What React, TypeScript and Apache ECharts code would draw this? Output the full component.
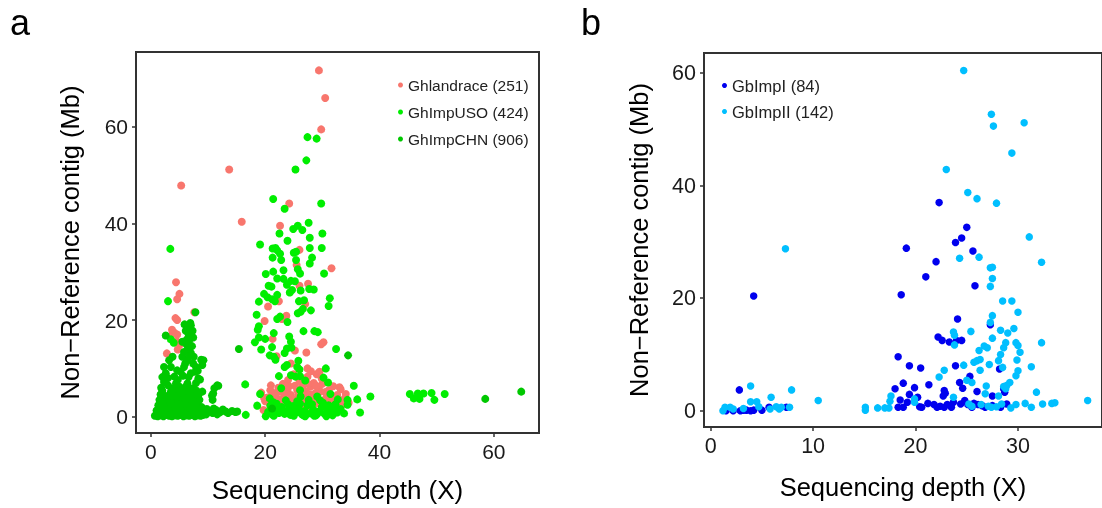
import React, { useEffect, useRef } from "react";
import * as echarts from "echarts";

const FONT = "'Liberation Sans', Arial, Helvetica, sans-serif";

// Panel a
const seriesNamesA = ["Ghlandrace (251)", "GhImpUSO (424)", "GhImpCHN (906)"];
const colorsA = ["#F8766D", "#00EE00", "#00C800"];
const xTicksA = [0, 20, 40, 60];
const yTicksA = [0, 20, 40, 60];

const ghLandrace: number[][] = [
  [29.4,71.6],[30.5,65.9],[29.8,59.4],[13.7,51.1],[5.3,47.8],[15.9,40.3],[24.2,44.1],[22.6,39.5],[26.0,34.5],[25.5,31.4],
  [31.6,30.7],[27.5,27.5],[26.0,27.1],[22.4,23.9],[20.5,22.8],[27.0,23.3],[23.7,20.9],[22.9,20.2],[19.9,19.8],[21.3,16.1],
  [30.2,15.4],[29.8,15.0],[25.2,13.7],[27.2,13.3],[22.0,12.5],[24.5,11.0],[27.4,10.0],[29.3,9.0],[29.0,8.8],
  [4.4,27.8],[5.0,25.4],[4.6,24.3],[7.6,21.6],[4.3,20.4],[4.6,20.0],[4.1,17.4],[3.8,17.2],[4.6,17.0],[4.5,15.6],
  [5.0,14.8],[4.7,13.9],[2.8,13.1],[3.7,18.0],
  [29.5,9.3],[30.3,7.3],[27.4,8.3],[25.2,6.4],[23.1,6.8],[23.9,5.5],[26.5,6.2],[27.9,6.2],[28.8,4.9],[30.0,6.8],
  [29.7,5.2],[31.1,5.5],[33.2,5.7],[34.1,4.7],[34.6,2.9],[33.5,2.5],[21.5,4.9],[20.7,2.8],[19.7,1.4],[19.3,5.0],
  [24.5,4.5],[26.2,3.8],[27.4,4.2],[28.2,3.5],[22.7,3.5],[23.9,2.8],[30.6,3.8],[31.7,3.5],[32.6,2.8],[22.1,1.4],
  [25.0,2.8],[29.1,2.8],[30.3,2.3],[27.1,5.2],[25.6,5.5],[23.3,4.5],[28.5,7.0],[26.0,7.4],[24.0,7.6],[22.3,6.0],
  [20.4,4.0],[21.0,6.5],[31.9,6.3],[32.6,4.5],[33.9,3.8],[20.0,3.2],[21.8,2.4],[26.8,2.4],[28.0,2.0],[31.2,1.9],
  [32.2,1.5],[24.7,1.8],[27.5,6.8],[29.3,5.9],[30.8,4.6],[25.0,8.8],[28.0,9.4],[26.7,4.7],[24.2,6.3],[22.5,5.3],[29.8,3.3],
  [21.9,4.2],[23.0,3.0],[24.9,3.6],[26.4,5.8],[27.8,4.6],[28.9,6.4],[30.5,5.1],[31.6,4.2],[32.9,3.2],[33.0,6.1],
  [20.9,5.5],[23.6,6.2],[25.8,4.6],[29.9,7.9],[31.4,2.9],[19.8,3.9],[27.0,3.1],[24.3,3.4],[21.2,3.6]
];

const ghImpUSO: number[][] = [
  [27.4,57.8],[29.0,57.5],[27.2,53.0],[25.3,51.1],[21.4,45.0],[29.8,44.1],[23.4,43.0],[22.5,37.9],[24.9,38.8],[25.7,39.5],
  [26.5,38.6],[27.6,40.1],[30.0,37.9],[23.9,36.4],[27.8,37.0],
  [19.1,35.6],[21.3,34.8],[21.8,34.9],[22.1,34.4],[29.9,34.9],[27.8,34.9],[25.0,33.9],[25.4,34.1],[22.6,33.7],[21.3,32.9],
  [28.2,32.9],[25.4,32.4],[22.8,32.4],[27.8,31.7],[25.7,30.5],[26.1,29.6],[20.1,29.5],[21.4,30.0],[23.2,30.3],[30.3,29.6],
  [22.1,28.6],[23.2,28.5],[24.5,28.1],[25.2,28.0],[23.8,27.3],[20.6,27.1],[21.1,26.9],[26.2,26.1],[24.3,25.7],[24.7,26.2],
  [27.7,26.4],[28.5,26.3],[19.8,25.4],[20.4,24.7],[21.2,24.3],[21.7,23.9],[22.1,25.2],[31.3,24.5],[18.9,23.8],[25.9,23.9],
  [26.8,24.1],[26.6,22.3],[26.2,21.7],[25.7,21.4],[31.1,22.9],[28.0,22.0],[18.5,21.1],[22.1,20.2],[22.6,20.7],[23.9,19.6],
  [18.9,18.7],[18.7,18.0],[26.7,17.7],[28.6,17.7],[29.2,17.5],[21.5,17.3],[18.9,16.4],[18.2,15.4],[20.0,16.1],[24.2,16.6],
  [24.5,15.5],[24.6,14.3],[21.2,14.4],[19.3,13.9],[23.8,14.1],[23.4,13.2],[32.4,14.0],[20.8,12.7],[21.5,12.4],[21.8,11.8],
  [25.8,11.6],[23.8,10.7],[23.4,10.3],[25.6,10.3],[26.0,9.8],[30.6,10.0],[24.5,8.6],[25.3,8.3],[26.1,8.4],[27.0,7.5],
  [22.4,8.4],[30.2,8.1],[16.5,6.7],[31.0,7.1],[22.8,5.9],[26.1,5.5],[35.5,6.4],[19.1,4.7],[31.4,4.7],[32.7,3.6],
  [34.4,3.5],[36.1,3.6],[38.4,4.2],[20.8,3.8],[21.4,3.0],[26.2,4.2],[29.1,4.2],[34.4,2.5],[18.6,2.3],[36.6,0.9],
  [16.6,0.4],[20.1,0.1],
  [20.5,1.0],[21.2,0.5],[21.8,1.6],[22.4,0.8],[22.9,2.0],[23.4,0.6],[23.9,1.3],[24.4,0.4],[24.9,2.2],[25.4,0.9],
  [25.9,1.6],[26.4,0.5],[26.9,1.2],[27.4,2.4],[27.9,0.7],[28.4,1.5],[28.9,0.3],[29.4,1.1],[29.9,2.0],[30.4,0.6],
  [30.9,1.4],[31.4,0.8],[32.0,1.9],[32.6,0.9],[33.2,1.6],[33.8,0.7],[20.9,2.3],[22.0,2.7],[23.1,1.0],[24.0,2.6],
  [25.0,0.2],[26.1,2.7],[27.0,0.1],[28.2,2.6],[29.1,0.6],[30.1,2.9],[31.1,2.4],[32.3,2.6],[23.6,3.4],[25.6,3.2],
  [27.6,3.5],[29.6,3.4],[21.5,0.2],[24.6,1.0],[28.6,0.2],[30.7,0.1],[26.7,0.3],[22.7,1.5],[31.8,0.3],
  [3.4,34.7],[3.0,23.9],[4.0,15.3],[3.5,16.0],
  [45.3,4.7],[46.0,3.8],[46.7,4.8],[47.0,3.7],[47.7,4.8],[49.1,4.9],[49.6,3.5],[51.4,4.7]
];

const ghImpCHN: number[][] = [
  [15.4,14.0],[34.5,12.7],[21.2,1.7],[58.5,3.7],[64.8,5.2],[7.8,21.6],[2.6,16.8],
  [7.0,18.9],[6.4,18.4],[7.3,17.8],[6.1,17.8],[6.9,16.8],[6.7,15.8],[6.3,16.0],[6.5,14.1],[5.8,13.4],[7.0,13.2],
  [7.5,12.4],[5.5,12.4],[9.2,11.7],[9.0,10.7],[6.4,11.7],[5.8,10.3],[7.9,10.3],[5.2,9.3],[7.0,9.0],[8.6,7.7],
  [7.9,7.0],[6.4,6.9],[4.7,7.6],[5.0,6.2],[6.9,19.4],[5.9,19.1],[8.8,11.8],[8.3,7.9],[6.2,15.0],[7.2,14.6],
  [6.0,11.0],[6.6,8.2],[5.6,8.5],[7.4,11.0],
  [3.8,12.4],[3.2,11.7],[2.3,10.3],[2.6,9.0],[3.5,10.3],[4.1,8.3],[4.4,6.9],[3.8,5.9],[2.3,7.2],[3.0,6.5],[1.8,6.0],[2.0,8.2],
  [0.7,0.2],[1.2,0.1],[1.7,0.3],[2.2,0.1],[2.7,0.4],[3.2,0.2],[3.7,0.1],[4.2,0.3],[4.7,0.2],[5.2,0.4],
  [5.7,0.1],[6.2,0.3],[6.7,0.2],[7.2,0.4],[7.7,0.1],[8.2,0.3],[8.7,0.2],[9.2,0.4],[9.7,0.5],
  [1.0,1.3],[1.8,1.1],[2.5,1.4],[3.3,1.0],[4.0,1.2],[4.8,1.5],[5.5,1.1],[6.3,1.3],[7.0,1.0],[7.8,1.4],[8.5,1.2],[9.3,1.1],
  [1.3,2.4],[2.0,2.1],[2.8,2.5],[3.6,2.2],[4.4,2.6],[5.1,2.3],[5.9,2.0],[6.6,2.5],[7.4,2.2],[8.2,2.4],[8.9,2.0],
  [1.5,3.5],[2.3,3.2],[3.1,3.6],[3.9,3.3],[4.6,3.7],[5.4,3.4],[6.2,3.1],[6.9,3.6],[7.7,3.3],[8.5,3.5],
  [1.7,4.6],[2.6,4.3],[3.4,4.7],[4.3,4.4],[5.1,4.8],[5.8,4.5],[6.6,4.2],[7.4,4.7],[8.3,4.4],
  [2.0,5.4],[4.0,5.7],[4.9,5.5],[5.7,5.8],[6.5,5.6],[7.3,5.9],[8.0,5.4],[9.0,5.2],[9.8,1.6],
  [1.4,0.7],[2.4,0.8],[3.5,0.6],[4.5,0.8],[5.4,0.7],[6.5,0.8],[7.5,0.7],[8.4,0.8],[9.0,0.9],
  [1.6,1.8],[3.0,1.9],[4.2,1.8],[5.3,1.7],[6.9,1.8],[8.0,1.9],[2.0,2.9],[3.4,2.8],[4.9,2.9],[6.0,2.7],
  [7.2,2.9],[8.1,3.0],[2.9,4.0],[4.6,4.1],[5.9,3.9],[7.0,4.0],[3.5,5.2],[5.3,5.2],[6.2,6.3],[4.6,9.6],
  [7.8,9.3],[5.5,15.5],[7.4,16.4],[6.6,17.1],[6.8,12.6],[8.2,9.5],[3.0,8.0],
  [11.8,6.4],[11.1,5.9],[10.9,4.8],[10.8,3.5],[11.4,1.4],[12.2,1.1],[13.1,1.1],[13.5,0.8],[14.8,1.0],[15.1,1.1],
  [10.8,0.8],[11.6,0.5],[11.0,1.7],[12.6,1.5],[10.7,4.4],[11.6,6.5],[12.0,0.9],[14.2,1.2]
];

// Panel b
const seriesNamesB = ["GbImpI (84)", "GbImpII (142)"];
const colorsB = ["#0000EE", "#00BFFF"];
const xTicksB = [0, 10, 20, 30];
const yTicksB = [0, 20, 40, 60];

const gbImpI: number[][] = [
  [4.2,20.4],[2.8,3.7],[19.1,28.9],[18.6,20.6],[18.3,9.6],[22.3,37.0],[22.0,26.5],[21.0,23.8],[25.0,32.6],[24.5,30.7],
  [23.9,29.9],[25.6,28.4],[25.8,22.2],[24.1,16.3],[27.3,15.3],[22.2,13.1],[22.6,12.5],[23.3,12.2],[24.0,12.5],[24.5,12.5],
  [19.4,8.0],[20.5,7.6],[23.9,8.0],[28.2,7.4],[25.3,6.1],[18.8,4.9],[19.9,4.1],[21.3,4.6],[18.0,3.9],[24.3,5.0],
  [24.6,4.0],[26.0,3.4],[22.8,3.6],[22.9,3.1],[22.7,2.6],[19.4,2.9],[20.2,2.4],[18.5,1.9],[19.2,1.5],[18.8,0.6],
  [18.3,0.6],[20.4,0.7],[20.6,0.6],[21.2,1.3],[21.8,1.1],[22.1,0.6],[22.4,0.8],[22.8,0.6],[23.1,1.1],[23.5,0.6],
  [23.7,1.5],[24.4,1.2],[24.8,1.8],[25.1,1.1],[25.5,0.6],[25.7,1.3],[26.1,1.1],[26.5,0.9],[26.8,0.6],[27.5,2.6],
  [27.5,0.9],[28.3,0.6],[28.7,3.3],[28.9,1.2],[28.6,3.9],
  [1.5,0.0],[2.2,0.0],[2.9,0.0],[3.2,0.1],[3.5,0.1],[3.9,0.0],[4.2,0.1],[5.0,0.1],[5.7,0.6],[7.4,0.6]
];

const gbImpII: number[][] = [
  [24.7,60.5],[27.4,52.7],[27.6,50.6],[30.6,51.2],[29.4,45.8],[23.0,42.9],[25.1,38.8],[26.0,37.7],[27.9,36.9],[31.1,30.9],
  [7.3,28.8],[24.3,27.1],[26.2,27.3],[32.3,26.4],[27.3,25.4],[27.5,25.5],[27.5,23.5],[27.3,22.1],[28.5,19.5],[29.4,19.5],
  [30.0,17.5],[27.5,16.9],[27.3,15.7],[23.7,14.0],[23.8,13.4],[23.8,11.7],[25.4,14.1],[28.3,14.3],[29.0,13.8],[29.6,14.6],
  [27.5,12.9],[28.8,12.1],[28.6,11.2],[28.3,10.0],[28.1,8.9],[28.5,7.7],[29.8,12.1],[30.0,11.6],[30.2,10.4],[29.9,9.0],
  [30.0,7.1],[29.8,6.2],[32.3,12.1],[26.7,11.5],[27.0,11.2],[26.2,10.7],[25.7,8.6],[26.0,8.9],[26.3,9.1],[26.3,7.2],
  [27.2,8.2],[24.7,8.1],[31.3,7.8],[22.8,7.2],[22.3,6.0],[25.0,5.4],[25.5,5.0],[26.9,4.4],[28.6,4.3],[28.8,3.9],
  [28.9,4.5],[29.2,5.0],[26.8,3.0],[28.1,2.6],[31.8,3.3],[23.7,2.4],[19.9,2.1],[17.6,2.6],[17.5,1.7],[15.1,0.6],
  [15.1,0.1],[16.3,0.5],[17.0,0.5],[17.4,0.5],[19.9,1.5],[25.2,1.2],[25.5,0.8],[26.4,1.1],[27.1,0.8],[27.4,0.6],
  [27.9,0.7],[28.4,1.2],[29.3,0.5],[29.8,1.1],[30.7,1.3],[31.3,0.6],[32.4,1.2],[33.3,1.3],[33.6,1.4],[36.8,1.8],
  [1.2,0.0],[1.4,0.6],[1.9,0.6],[2.2,0.3],[3.2,0.4],[3.9,4.4],[3.9,1.6],[4.5,1.6],[5.9,2.4],[4.7,0.7],
  [5.8,0.3],[6.4,0.7],[6.7,0.3],[6.9,0.6],[7.7,0.6],[7.9,3.7],[10.5,1.8]
];

const xTitle = "Sequencing depth (X)";
const yTitle = "Non\u2212Reference contig (Mb)";

function makeAxis(gridIndex: number, min: number, max: number, ticks: number[], name: string, nameGap: number, titleSize: number, labelSize: number) {
  return {
    gridIndex,
    type: "value",
    min,
    max,
    name,
    nameLocation: "middle",
    nameGap,
    nameTextStyle: { fontSize: titleSize, color: "#000", fontFamily: FONT },
    axisLine: { show: true, onZero: false, lineStyle: { color: "#333", width: 2 } },
    axisTick: { show: true, length: 4, customValues: ticks, lineStyle: { color: "#333", width: 1.5 } },
    axisLabel: { customValues: ticks, fontSize: labelSize, color: "#1a1a1a", margin: 8, fontFamily: FONT },
    splitLine: { show: false },
  };
}

export default function App() {
  const ref = useRef<HTMLDivElement>(null);
  useEffect(() => {
    if (!ref.current) return;
    const chart = echarts.init(ref.current, undefined, { renderer: "svg" });
    const scatter = (name: string, data: number[][], color: string, idx: number, size: number) => ({
      name,
      type: "scatter",
      xAxisIndex: idx,
      yAxisIndex: idx,
      data,
      symbolSize: size,
      itemStyle: { color, opacity: 1 },
      emphasis: { disabled: true },
    });
    chart.setOption({
      animation: false,
      textStyle: { fontFamily: FONT },
      grid: [
        { left: 136, top: 52, width: 403, height: 382, show: true, borderColor: "#333", borderWidth: 2, backgroundColor: "transparent" },
        { left: 704, top: 53, width: 404, height: 374, show: true, borderColor: "#333", borderWidth: 2, backgroundColor: "transparent" },
      ],
      xAxis: [
        makeAxis(0, -2.6, 67.9, xTicksA, xTitle, 44, 26, 21),
        makeAxis(1, -0.65, 38.2, xTicksB, xTitle, 47, 25.5, 21.5),
      ],
      yAxis: [
        makeAxis(0, -3.35, 75.4, yTicksA, yTitle, 53, 25.5, 21),
        makeAxis(1, -2.9, 63.6, yTicksB, yTitle, 52, 25.5, 21.5),
      ],
      legend: [
        {
          data: seriesNamesA,
          orient: "vertical",
          left: 398,
          top: 77,
          padding: 0,
          itemWidth: 5,
          itemHeight: 5,
          itemGap: 11,
          icon: "circle",
          textStyle: { fontSize: 15.5, color: "#222", fontFamily: FONT },
        },
        {
          data: seriesNamesB,
          orient: "vertical",
          left: 722,
          top: 77,
          padding: 0,
          itemWidth: 5,
          itemHeight: 5,
          itemGap: 9,
          icon: "circle",
          textStyle: { fontSize: 16.5, color: "#222", fontFamily: FONT },
        },
      ],
      graphic: [
        { type: "text", x: 10, y: 4, style: { text: "a", fontSize: 36, fill: "#000", fontFamily: FONT, textVerticalAlign: "top" } },
        { type: "text", x: 581, y: 4, style: { text: "b", fontSize: 36, fill: "#000", fontFamily: FONT, textVerticalAlign: "top" } },
      ],
      series: [
        scatter(seriesNamesA[0], ghLandrace, colorsA[0], 0, 8),
        scatter(seriesNamesA[1], ghImpUSO, colorsA[1], 0, 8),
        scatter(seriesNamesA[2], ghImpCHN, colorsA[2], 0, 8),
        scatter(seriesNamesB[0], gbImpI, colorsB[0], 1, 7.5),
        scatter(seriesNamesB[1], gbImpII, colorsB[1], 1, 7.5),
      ],
    });
    return () => chart.dispose();
  }, []);
  return <div ref={ref} style={{ position: "fixed", left: 0, top: 0, width: 1102, height: 508 }} />;
}
